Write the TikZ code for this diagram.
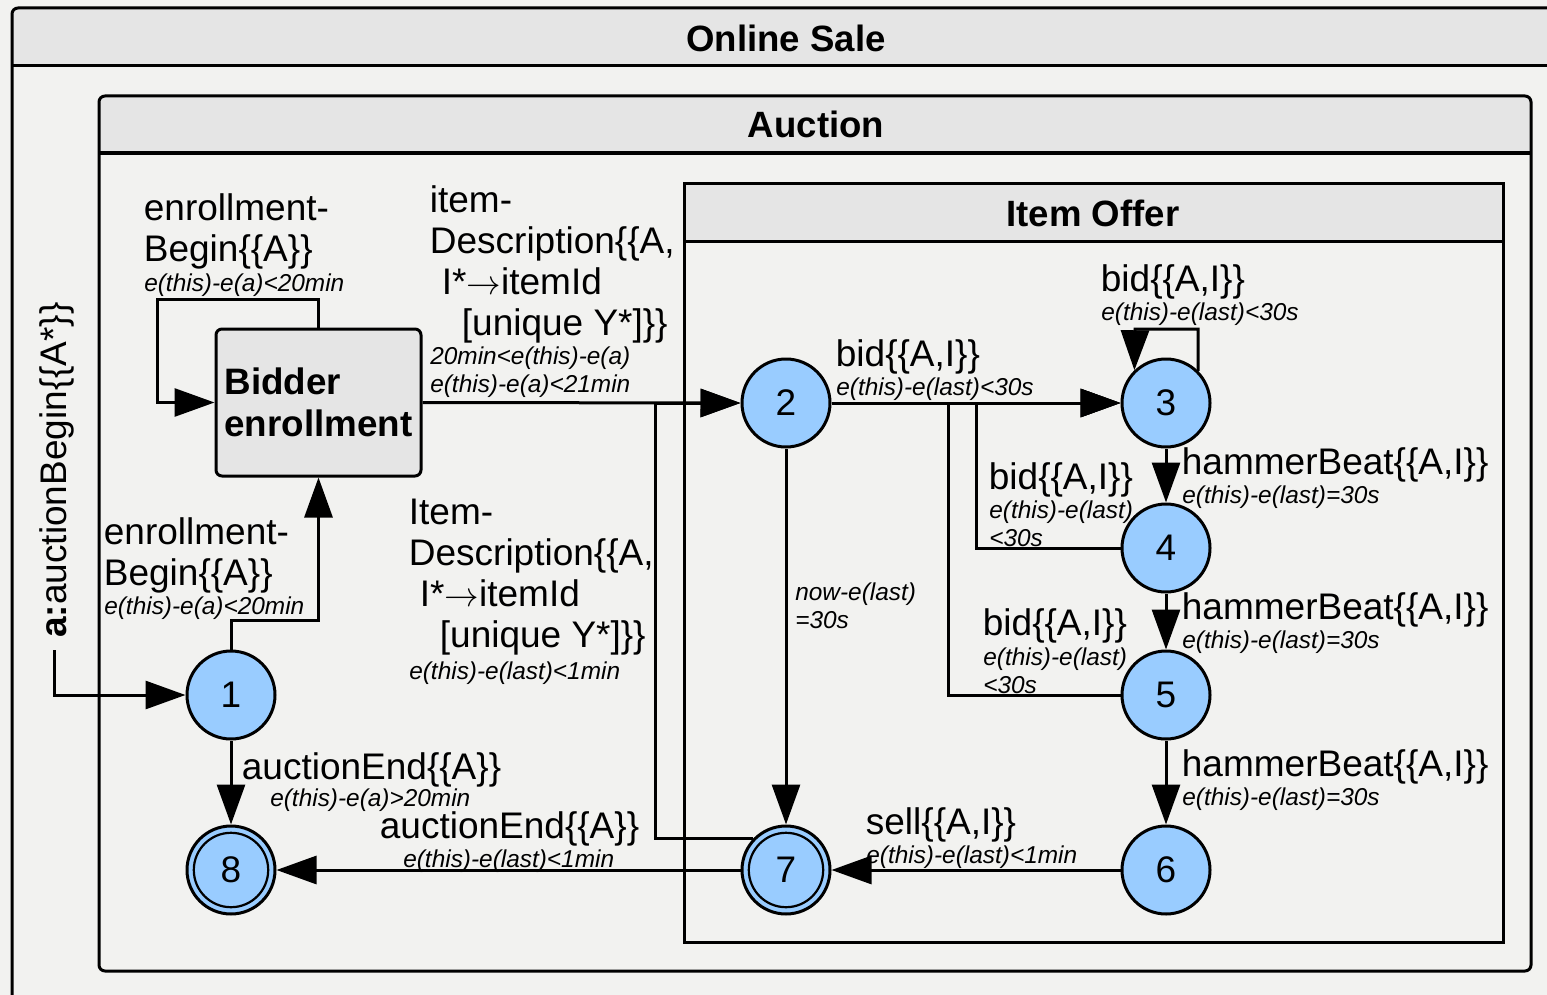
\documentclass[tikz,border=0pt]{standalone}
\usepackage{fontspec}
\setmainfont{Liberation Sans}
\usetikzlibrary{arrows.meta}

\definecolor{bg}{HTML}{F2F2F0}
\definecolor{bar}{HTML}{E5E5E5}
\definecolor{statefill}{HTML}{99CCFF}

\newcommand\labfont{\fontsize{18.5pt}{20.5pt}\selectfont}
\newcommand\condfont{\fontsize{12.2pt}{14pt}\selectfont\itshape}
\newcommand\titlefont{\fontsize{18.3pt}{20pt}\selectfont\bfseries}

\begin{document}
\begin{tikzpicture}[x=0.5pt,y=-0.5pt,
  line width=1.5pt,
  >={Triangle[length=20pt,width=14pt]},
  state/.style={circle,draw,line width=1.5pt,fill=statefill,minimum size=44pt,inner sep=0pt,font=\labfont},
  lab/.style={anchor=north west,inner sep=0pt,align=left,font=\labfont,xshift=-0.8pt},
  cond/.style={anchor=north west,inner sep=0pt,align=left,font=\condfont,xshift=-0.6pt},
  title/.style={font=\titlefont,inner sep=0pt},
  trans/.style={->,line width=1.5pt}]

\useasboundingbox (0,0) rectangle (1547,995);
\clip (0,0) rectangle (1547,995);
\fill[bg] (0,0) rectangle (1547,995);

% ---- Online Sale frame
\fill[bar] (12,66) [rounded corners=3pt] -- (12,8) -- (1580,8) [sharp corners] -- (1580,66) -- cycle;
\draw[rounded corners=3pt] (12,8) rectangle (1580,1030);
\draw (12,66) -- (1580,66);
\node[title] (tOnline) at (786,38) {Online Sale};

% ---- Auction frame
\fill[bar] (99,153) [rounded corners=3pt] -- (99,96) -- (1531,96) [sharp corners] -- (1531,153) -- cycle;
\draw[rounded corners=3pt] (99,96) rectangle (1531,971);
\draw (99,153) -- (1531,153);
\node[title] (tAuction) at (816,124) {Auction};

% ---- Item Offer frame
\fill[bar] (684,183) rectangle (1503,241);
\draw (684,183) rectangle (1503,942);
\draw (684,241) -- (1503,241);
\node[title] (tItem) at (1093,213) {Item Offer};

% ---- states
\node[draw,fill=bar,rounded corners=3pt,line width=1.5pt,minimum width=102.5pt,minimum height=73.5pt,
      align=left,font=\fontsize{18.4pt}{21pt}\selectfont\bfseries,inner xsep=4pt] (bid) at (318.5,402.5) {Bidder\\enrollment};
\node[state] (n1) at (231,695) {1};
\node[state] (n2) at (786,403) {2};
\node[state] (n3) at (1166,403) {3};
\node[state] (n4) at (1166,548) {4};
\node[state] (n5) at (1166,695) {5};
\node[state] (n6) at (1166,870) {6};
\node[state] (n7) at (786,870) {7};
\node[state] (n8) at (231,870) {8};
\draw[line width=1.1pt] (n7.center) circle[radius=18.6pt];
\draw[line width=1.1pt] (n8.center) circle[radius=18.6pt];

% ---- bend points
\coordinate (s0) at (54,650);
\coordinate (kA) at (157,299);
\coordinate (kB) at (655,403);
\coordinate (kC) at (1135,329);
\coordinate (kD) at (976,403);
\coordinate (kE) at (948,403);

% ---- transitions
\draw[trans] (s0) |- (n1.west);
\draw[trans] (n1.north) -- ++(0,-29) -| (bid.south);
\draw[trans] (bid.north) |- (kA) |- (bid.west);
\draw[trans] (bid.east) -- (n2.west);
\draw[trans] (n7.137) -| (kB) -- (n2.west);
\draw[trans] (n1.south) -- (n8.north);
\draw[trans] (n7.west) -- (n8.east);
\draw[trans] (n2.south) -- (n7.north);
\draw[trans] (n2.east) -- (n3.west);
\draw[trans] (n3.45) |- (kC) -- (n3.134);
\draw[trans] (n3.south) -- (n4.north);
\draw[trans] (n4.west) -| (kD) -- (n3.west);
\draw[trans] (n4.south) -- (n5.north);
\draw[trans] (n5.west) -| (kE) -- (n3.west);
\draw[trans] (n5.south) -- (n6.north);
\draw[trans] (n6.west) -- (n7.east);

% ---- labels
\node[rotate=90,font=\labfont,inner sep=0pt] (lInit) at (57,470) {\textbf{a:}auctionBegin\{\{A*\}\}};

\node[lab] (lSelfB) at (144,192) {enrollment-\\Begin\{\{A\}\}};
\node[cond] (cSelfB) at (144,272) {e(this)-e(a)<20min};

\node[lab] (lDesc) at (430,184) {item-\\Description\{\{A,\\\hspace{6pt}I*$\rightarrow$itemId\\\hspace{16pt}[unique Y*]\}\}};
\node[cond] (cDesc) at (430,345) {20min<e(this)-e(a)\\e(this)-e(a)<21min};

\node[lab] (lDesc2) at (409,498) {Item-\\Description\{\{A,\\\hspace{5.5pt}I*$\rightarrow$itemId\\\hspace{15.5pt}[unique Y*]\}\}};
\node[cond] (cDesc2) at (409,660) {e(this)-e(last)<1min};

\node[lab] (lEnr) at (104,516) {enrollment-\\Begin\{\{A\}\}};
\node[cond] (cEnr) at (104,595) {e(this)-e(a)<20min};

\node[lab] (lEnd1) at (242,751) {auctionEnd\{\{A\}\}};
\node[cond] (cEnd1) at (270,787) {e(this)-e(a)>20min};

\node[lab] (lEnd2) at (380,810) {auctionEnd\{\{A\}\}};
\node[cond] (cEnd2) at (403,848) {e(this)-e(last)<1min};

\node[cond] (cNow) at (795,581) {now-e(last)\\=30s};

\node[lab] (lBid23) at (836,338) {bid\{\{A,I\}\}};
\node[cond] (cBid23) at (836,376) {e(this)-e(last)<30s};

\node[lab] (lBid33) at (1101,263) {bid\{\{A,I\}\}};
\node[cond] (cBid33) at (1101,301) {e(this)-e(last)<30s};

\node[lab] (lH34) at (1182,446) {hammerBeat\{\{A,I\}\}};
\node[cond] (cH34) at (1182,484) {e(this)-e(last)=30s};

\node[lab] (lBid43) at (989,461) {bid\{\{A,I\}\}};
\node[cond] (cBid43) at (989,499) {e(this)-e(last)\\<30s};

\node[lab] (lH45) at (1182,591) {hammerBeat\{\{A,I\}\}};
\node[cond] (cH45) at (1182,629) {e(this)-e(last)=30s};

\node[lab] (lBid53) at (983,607) {bid\{\{A,I\}\}};
\node[cond] (cBid53) at (983,646) {e(this)-e(last)\\<30s};

\node[lab] (lH56) at (1182,748) {hammerBeat\{\{A,I\}\}};
\node[cond] (cH56) at (1182,786) {e(this)-e(last)=30s};

\node[lab] (lSell) at (866,806) {sell\{\{A,I\}\}};
\node[cond] (cSell) at (866,844) {e(this)-e(last)<1min};
\end{tikzpicture}
\end{document}
